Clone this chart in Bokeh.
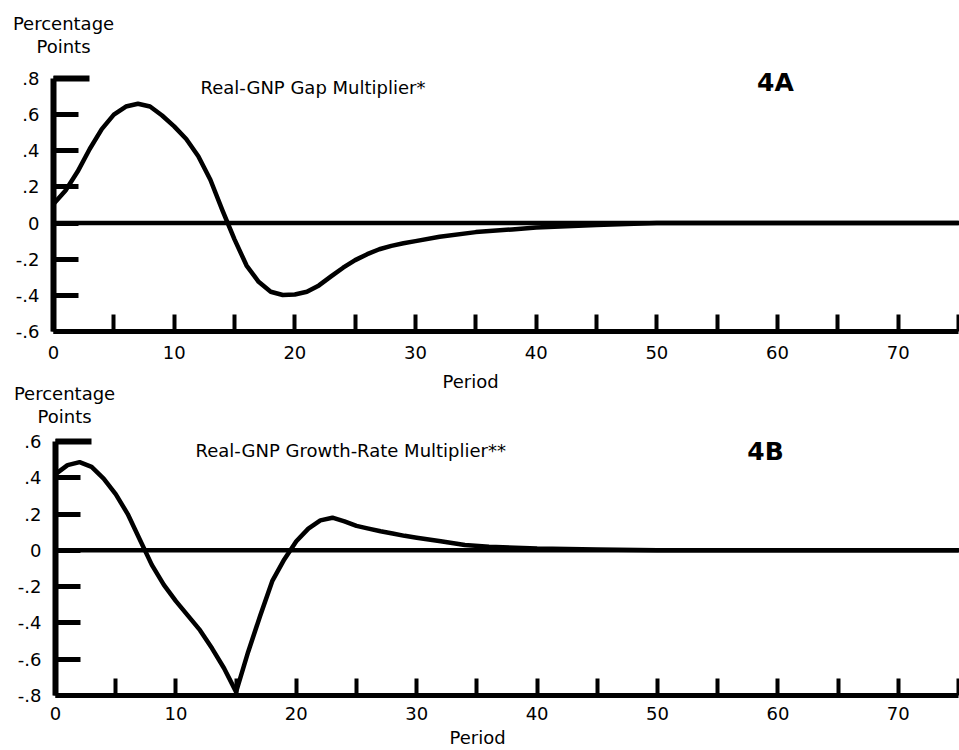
from bokeh.plotting import figure
from bokeh.models import Range1d, FixedTicker, Label, LinearAxis
from bokeh.embed import file_html
from bokeh.resources import INLINE

# ---- data ----
periods_a = [0, 1, 2, 3, 4, 5, 6, 7, 8, 9, 10, 11, 12, 13, 14, 15, 16, 17, 18, 19, 20,
             21, 22, 23, 24, 25, 26, 27, 28, 29, 30, 32, 35, 38, 40, 45, 50, 60, 75]
gap_mult = [0.105, 0.18, 0.285, 0.41, 0.52, 0.60, 0.645, 0.66, 0.645, 0.595, 0.535, 0.465,
            0.37, 0.24, 0.07, -0.09, -0.235, -0.325, -0.38, -0.398, -0.395, -0.38, -0.345,
            -0.295, -0.247, -0.205, -0.172, -0.145, -0.126, -0.112, -0.10, -0.076, -0.05,
            -0.035, -0.025, -0.01, 0.0, 0.0, 0.0]

periods_b = [0, 1, 2, 3, 4, 5, 6, 7, 8, 9, 10, 11, 12, 13, 14, 15, 16, 17, 18, 19, 20,
             21, 22, 23, 24, 25, 26, 27, 28, 29, 30, 32, 34, 36, 40, 45, 50, 60, 75]
growth_mult = [0.42, 0.47, 0.486, 0.46, 0.395, 0.31, 0.2, 0.06, -0.08, -0.19, -0.28,
               -0.36, -0.44, -0.54, -0.65, -0.78, -0.56, -0.36, -0.17, -0.05, 0.05, 0.12,
               0.165, 0.18, 0.16, 0.135, 0.12, 0.105, 0.093, 0.08, 0.07, 0.05, 0.03, 0.02,
               0.01, 0.005, 0.0, 0.0, 0.0]

x_ticks = list(range(0, 80, 5))
x_tick_labels = {t: (str(t) if t % 10 == 0 and t <= 70 else "") for t in x_ticks}

y_ticks_a = [-0.6, -0.4, -0.2, 0, 0.2, 0.4, 0.6]
y_labels_a = ["-.6", "-.4", "-.2", "0", ".2", ".4", ".6"]
y_top_a = 0.8
y_top_label_a = ".8"
y_ticks_b = [-0.8, -0.6, -0.4, -0.2, 0, 0.2, 0.4]
y_labels_b = ["-.8", "-.6", "-.4", "-.2", "0", ".2", ".4"]
y_top_b = 0.6
y_top_label_b = ".6"

FONT = "DejaVu Sans"
W, H = 959, 750


def ranges(px0, px75, py_top, py_bot, ylo, yhi):
    # map the panel's pixel box to data ranges covering the whole canvas
    sx = (px75 - px0) / 75.0
    sy = (py_bot - py_top) / (yhi - ylo)
    return (Range1d(-px0 / sx, (W - px0) / sx),
            Range1d(ylo - (H - py_bot) / sy, yhi + py_top / sy))


xa_r, ya_r = ranges(53, 958, 78, 331, -0.6, 0.8)
xb_r, yb_r = ranges(55, 958, 441, 695, -0.8, 0.6)

p = figure(width=W, height=H, output_backend="svg", toolbar_location=None,
           x_range=xa_r, y_range=ya_r, x_axis_location=None, y_axis_location=None,
           min_border=0)
p.extra_x_ranges = {"xb": xb_r}
p.extra_y_ranges = {"yb": yb_r}
p.outline_line_color = None
p.grid.visible = False


def panel(xn, yn, ylo, yhi, yt, yl, ytop, ytop_label, xs, ys, title, tag,
          title_pos, tag_pos, unit_pos, period_pos, x_standoff):
    xa = LinearAxis(fixed_location=ylo, bounds=(0, 75), x_range_name=xn, y_range_name=yn)
    xa.ticker = FixedTicker(ticks=x_ticks)
    xa.major_label_overrides = x_tick_labels
    xa.axis_line_width = 5
    xa.major_tick_in = 17
    xa.major_tick_out = 0
    xa.major_tick_line_width = 4
    xa.minor_tick_line_color = None
    xa.major_label_standoff = x_standoff
    xa.major_label_text_font = FONT
    xa.major_label_text_font_size = "18px"
    xa.major_label_text_color = "black"
    p.add_layout(xa, "below")

    ya = LinearAxis(fixed_location=0, bounds=(ylo, yhi), x_range_name=xn, y_range_name=yn)
    ya.ticker = FixedTicker(ticks=yt + [ytop])
    ya.major_label_overrides = {**{t: l for t, l in zip(yt, yl)}, ytop: ytop_label}
    ya.axis_line_width = 6
    ya.major_tick_in = 25
    ya.major_tick_out = 0
    ya.major_tick_line_width = 5
    ya.minor_tick_line_color = None
    ya.major_label_standoff = 14
    ya.major_label_text_font = FONT
    ya.major_label_text_font_size = "18px"
    ya.major_label_text_color = "black"
    p.add_layout(ya, "left")

    # longer top tick (frame corner)
    ya2 = LinearAxis(fixed_location=0, bounds=(ylo, yhi), x_range_name=xn, y_range_name=yn)
    ya2.ticker = FixedTicker(ticks=[ytop])
    ya2.major_label_overrides = {ytop: ""}
    ya2.axis_line_color = None
    ya2.major_tick_in = 36
    ya2.major_tick_out = 0
    ya2.major_tick_line_width = 6
    ya2.minor_tick_line_color = None
    p.add_layout(ya2, "left")

    # zero line and curve
    p.line([0, 75], [0, 0], line_color="black", line_width=4.5,
           x_range_name=xn, y_range_name=yn)
    p.line(xs, ys, line_color="black", line_width=4.5, line_join="round",
           line_cap="round", x_range_name=xn, y_range_name=yn)

    def lab(x, y, t, size="18px", style="normal", align="center"):
        p.add_layout(Label(x=x, y=y, text=t, text_font=FONT, text_font_size=size,
                           text_font_style=style, text_baseline="middle",
                           text_align=align, text_color="black",
                           x_range_name=xn, y_range_name=yn))

    lab(title_pos[0], title_pos[1], title, align="left")
    lab(tag_pos[0], tag_pos[1], tag, size="25px", style="bold")
    lab(unit_pos[0], unit_pos[1], "Percentage")
    lab(unit_pos[0], unit_pos[2], "Points")
    lab(period_pos[0], period_pos[1], "Period")


panel("default", "default", -0.6, 0.8, y_ticks_a, y_labels_a, y_top_a, y_top_label_a,
      periods_a, gap_mult, "Real-GNP Gap Multiplier*", "4A",
      (12.18, 0.75), (59.83, 0.778), (0.83, 1.104, 0.977), (34.56, -0.877), 14)
panel("xb", "yb", -0.8, 0.6, y_ticks_b, y_labels_b, y_top_b, y_top_label_b,
      periods_b, growth_mult, "Real-GNP Growth-Rate Multiplier**", "4B",
      (11.63, 0.55), (58.97, 0.545), (0.75, 0.865, 0.738), (35.05, -1.032), 11)

open("out.html", "w").write(file_html(p, INLINE))
